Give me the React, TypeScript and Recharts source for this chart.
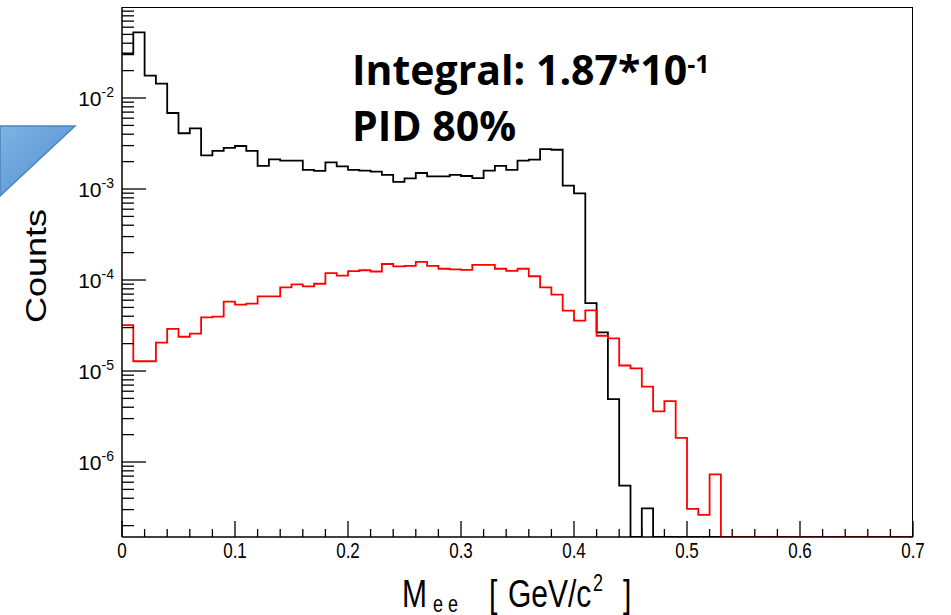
import { LineChart, Line, XAxis, YAxis } from "recharts";

const BIN_WIDTH = 0.01;
const X_MAX = 0.7;
const Y_MIN = 1.5e-7;
const Y_MAX = 0.1;

// counts per 0.01 GeV/c^2 bin, 0 = empty bin
const blackCounts = [
  0.031, 0.0527, 0.0176, 0.0144, 0.00684, 0.0041, 0.00464, 0.00234, 0.00262, 0.00283,
  0.00297, 0.00262, 0.0018, 0.00212, 0.00205, 0.00205, 0.00162, 0.00158, 0.00196, 0.00177,
  0.00162, 0.00159, 0.00155, 0.00143, 0.0012, 0.00131, 0.0015, 0.00138, 0.00138, 0.00143,
  0.00139, 0.00132, 0.00159, 0.0018, 0.00162, 0.00205, 0.0021, 0.00275, 0.0027, 0.00109,
  0.000897, 5.58e-5, 2.66e-5, 4.92e-6, 5.5e-7, 0, 3.1e-7, 0, 0, 0,
  0, 0, 0, 0, 0, 0, 0, 0, 0, 0,
  0, 0, 0, 0, 0, 0, 0, 0, 0, 0,
];

const redCounts = [
  3.2e-5, 1.28e-5, 1.28e-5, 2.05e-5, 2.9e-5, 2.38e-5, 2.57e-5, 3.89e-5, 3.95e-5, 5.78e-5,
  5.36e-5, 5.5e-5, 6.62e-5, 6.62e-5, 8.3e-5, 8.97e-5, 8.5e-5, 9.1e-5, 1.19e-4, 1.12e-4,
  1.25e-4, 1.28e-4, 1.24e-4, 1.5e-4, 1.41e-4, 1.43e-4, 1.58e-4, 1.43e-4, 1.33e-4, 1.31e-4,
  1.29e-4, 1.47e-4, 1.47e-4, 1.33e-4, 1.26e-4, 1.33e-4, 1.1e-4, 8.3e-5, 6.9e-5, 4.6e-5,
  3.58e-5, 4.64e-5, 2.44e-5, 2.28e-5, 1.15e-5, 1.07e-5, 6.73e-6, 3.6e-6, 4.67e-6, 1.84e-6,
  3.05e-7, 2.62e-7, 7.3e-7, 0, 0, 0, 0, 0, 0, 0,
  0, 0, 0, 0, 0, 0, 0, 0, 0, 0,
];

const xMajorTicks = [0, 0.1, 0.2, 0.3, 0.4, 0.5, 0.6, 0.7];
const xTickLabels = ["0", "0.1", "0.2", "0.3", "0.4", "0.5", "0.6", "0.7"];
const yDecades = [1e-2, 1e-3, 1e-4, 1e-5, 1e-6];
const yDecadeLabels = ["-2", "-3", "-4", "-5", "-6"];

// step histogram: one point per bin low edge, plus closing point at the upper edge
const data = blackCounts.map((b, i) => ({
  x: +(i * BIN_WIDTH).toFixed(2),
  black: Math.max(b, Y_MIN),
  red: Math.max(redCounts[i], Y_MIN),
}));
data.push({ ...data[data.length - 1], x: X_MAX });

const xTicks: number[] = [];
for (let i = 0; i <= 35; i++) xTicks.push(+(i * 0.02).toFixed(2));

const yTicks: number[] = [];
for (let e = -7; e <= -2; e++) {
  for (let m = 1; m <= 9; m++) {
    const v = m * Math.pow(10, e);
    if (v >= Y_MIN && v <= Y_MAX) yTicks.push(v);
  }
}

const AXIS_FONT = "'Liberation Sans', Arial, sans-serif";

const XTick = (props: any) => {
  const { x, y, payload } = props;
  const idx = xMajorTicks.findIndex((t) => Math.abs(t - payload.value) < 1e-9);
  const major = idx >= 0;
  return (
    <g>
      <line x1={x} x2={x} y1={y} y2={y - (major ? 16 : 8)} stroke="#000" strokeWidth={1.3} />
      {major && (
        <text
          transform={`translate(${x},${y + 21}) scale(1,1.3)`}
          textAnchor="middle"
          fontSize={17}
          fontFamily={AXIS_FONT}
          fill="#000"
        >
          {xTickLabels[idx]}
        </text>
      )}
    </g>
  );
};

const YTick = (props: any) => {
  const { x, y, payload } = props;
  const idx = yDecades.findIndex((t) => Math.abs(Math.log10(t) - Math.log10(payload.value)) < 1e-6);
  const major = idx >= 0;
  return (
    <g>
      <line x1={x} x2={x + (major ? 24 : 12)} y1={y} y2={y} stroke="#000" strokeWidth={1.3} />
      {major && (
        <text x={x - 8} y={y + 8} textAnchor="end" fontSize={21} fontFamily={AXIS_FONT} fill="#000">
          <tspan>10</tspan>
          <tspan dy={-9} fontSize={14}>
            {yDecadeLabels[idx]}
          </tspan>
        </text>
      )}
    </g>
  );
};

export default function App() {
  return (
    <div style={{ position: "absolute", left: 0, top: 0, width: 951, height: 615, background: "#fff" }}>
      <LineChart width={951} height={615} data={data} margin={{ top: 7, right: 38, left: 22, bottom: 38 }}>
        <XAxis
          dataKey="x"
          type="number"
          domain={[0, X_MAX]}
          ticks={xTicks}
          interval={0}
          tick={<XTick />}
          tickLine={false}
          tickSize={0}
          tickMargin={0}
          height={40}
          axisLine={{ stroke: "#000", strokeWidth: 1.5 }}
        />
        <YAxis
          type="number"
          scale="log"
          domain={[Y_MIN, Y_MAX]}
          allowDataOverflow
          ticks={yTicks}
          interval={0}
          tick={<YTick />}
          tickLine={false}
          tickSize={0}
          tickMargin={0}
          width={100}
          axisLine={{ stroke: "#000", strokeWidth: 1.5 }}
        />
        <Line
          type="stepAfter"
          dataKey="black"
          stroke="#000"
          strokeWidth={1.8}
          dot={false}
          isAnimationActive={false}
        />
        <Line
          type="stepAfter"
          dataKey="red"
          stroke="#ff0000"
          strokeWidth={1.8}
          dot={false}
          isAnimationActive={false}
        />
      </LineChart>

      {/* frame top/right edges */}
      <div
        style={{
          position: "absolute",
          left: 122,
          top: 7,
          width: 791,
          height: 530,
          borderTop: "1.5px solid #000",
          borderRight: "1.5px solid #000",
          boxSizing: "border-box",
          pointerEvents: "none",
        }}
      />

      <svg
        width={951}
        height={615}
        style={{ position: "absolute", left: 0, top: 0, pointerEvents: "none" }}
      >
        <defs>
          <linearGradient id="tri" x1="0" y1="0" x2="1" y2="1">
            <stop offset="0" stopColor="#7fb3e3" />
            <stop offset="1" stopColor="#4f8fcf" />
          </linearGradient>
        </defs>
        <polygon points="0,126 75,126 0,196" fill="url(#tri)" stroke="#4a84bd" strokeWidth={1.5} />

        <text fontFamily="'Open Sans', sans-serif" fontWeight={700} fontSize={41} fill="#000">
          <tspan x={352} y={85}>Integral: 1.87*10</tspan>
          <tspan dy={-12} fontSize={25}>-1</tspan>
          <tspan x={352} y={141}>PID 80%</tspan>
        </text>

        <text
          transform="translate(46,266) rotate(-90) scale(1.2,1)"
          textAnchor="middle"
          fontSize={30}
          fontFamily={AXIS_FONT}
          fill="#000"
        >
          Counts
        </text>

        <g fontFamily={AXIS_FONT} fill="#000">
          <text transform="translate(402,607) scale(1,1.3)" fontSize={30}>M</text>
          <text transform="translate(433,612) scale(1,1.3)" fontSize={18}>e e</text>
          <text transform="translate(489,607) scale(1,1.3)" fontSize={30}>[</text>
          <text transform="translate(508,607) scale(1,1.3)" fontSize={30}>GeV/c</text>
          <text transform="translate(593,591) scale(1,1.3)" fontSize={18}>2</text>
          <text transform="translate(623,607) scale(1,1.3)" fontSize={30}>]</text>
        </g>
      </svg>
    </div>
  );
}
